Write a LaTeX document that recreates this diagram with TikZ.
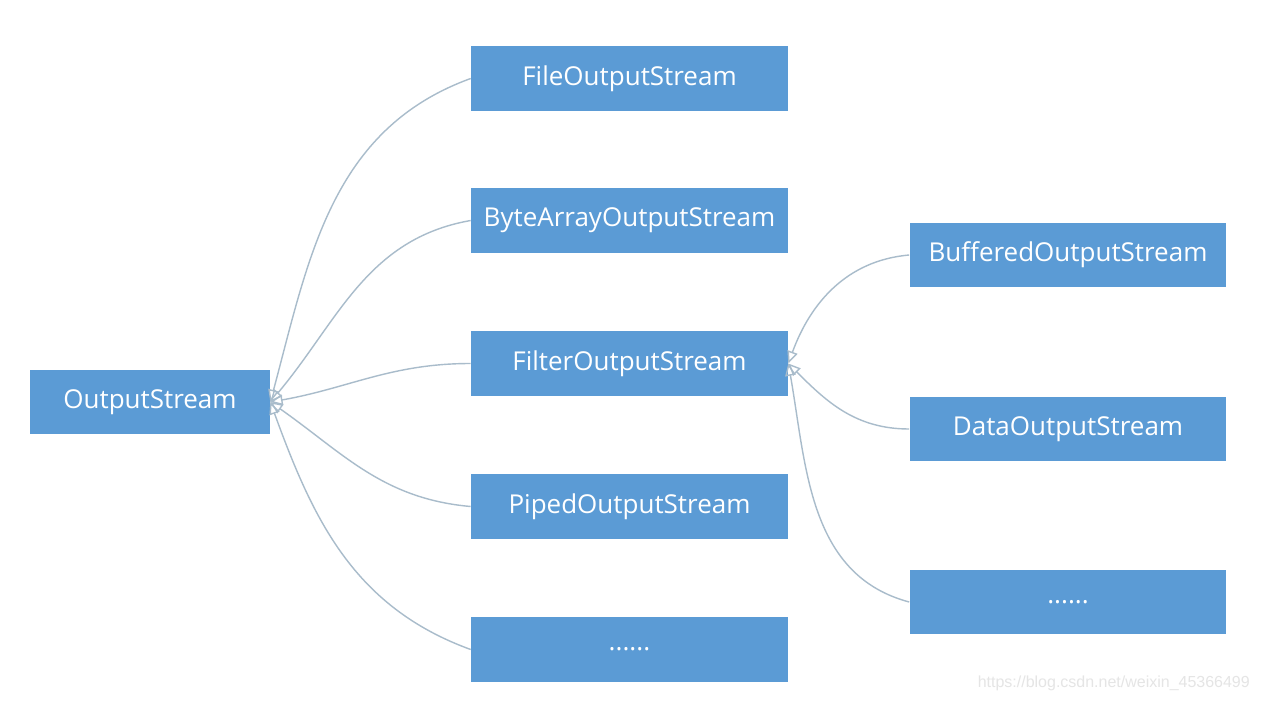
\documentclass[tikz,border=0pt]{standalone}
\usepackage{fontspec}
\setmainfont{Open Sans}
\newfontfamily\wmfont{Liberation Sans}
\usetikzlibrary{arrows.meta}
\definecolor{boxblue}{HTML}{5B9BD5}
\definecolor{linkgray}{HTML}{A9BCCB}

\begin{document}
\begin{tikzpicture}[x=0.02cm, y=0.02cm, >={Triangle[open, length=7pt, width=6pt]},
    cls/.style={fill=boxblue, text=white, minimum height=1.3cm, inner sep=0pt,
                font=\fontsize{14.8}{16}\selectfont},
    sub/.style={cls, minimum width=6.34cm},
    link/.style={linkgray, line width=0.8pt, ->}]
    % 画布
    \useasboundingbox[fill=white] (0,0) rectangle (1265,701);

    % 基类
    \node[cls, minimum width=4.8cm] (os) at (150,299) {OutputStream};

    % 第一层子类
    \node[sub] (fos)   at (629.5,622.5) {FileOutputStream};
    \node[sub] (baos)  at (629.5,480.5) {ByteArrayOutputStream};
    \node[sub] (filt)  at (629.5,337.5) {FilterOutputStream};
    \node[sub] (pos)   at (629.5,194.5) {PipedOutputStream};
    \node[sub] (odots) at (629.5,51.5)  {......};

    % 第二层子类 (FilterOutputStream 之下)
    \node[sub] (bos)   at (1068,446) {BufferedOutputStream};
    \node[sub] (dos)   at (1068,272) {DataOutputStream};
    \node[sub] (rdots) at (1068,99)  {......};

    % 继承关系 (空心三角指向父类)
    \draw[link] (fos.west)   to[out=200, in=75]  (os.east);
    \draw[link] (baos.west)  to[out=190, in=50]  (os.east);
    \draw[link] (filt.west)  to[out=180, in=10]  (os.east);
    \draw[link] (pos.west)   to[out=175, in=-35] (os.east);
    \draw[link] (odots.west) to[out=160, in=-70] (os.east);

    \draw[link] (bos.west)   to[out=185, in=70]  (filt.east);
    \draw[link] (dos.west)   to[out=180, in=-45] (filt.east);
    \draw[link] (rdots.west) to[out=165, in=-80] (filt.east);

    % 水印
    \node[text=black!10, font=\wmfont\fontsize{9.1}{10}\selectfont, anchor=east] (wm) at (1256,18)
        {https://blog.csdn.net/weixin\_45366499};
\end{tikzpicture}
\end{document}
